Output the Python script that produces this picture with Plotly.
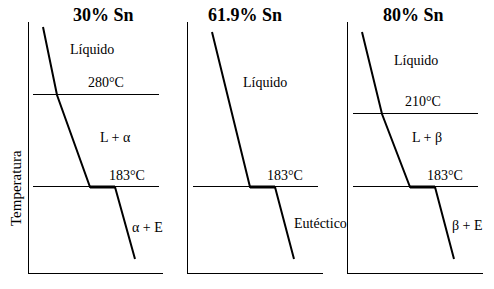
import plotly.graph_objects as go

W, H = 494, 289

# Schematic cooling curves (time vs temperature level, arbitrary units)
titles = ["30% Sn", "61.9% Sn", "80% Sn"]

time_30 = [14, 28, 61, 86, 106]
temp_30 = [246, 178, 86, 86, 14]
time_619 = [24, 62, 87, 106]
temp_619 = [241, 86, 86, 14]
time_80 = [14, 34, 62, 87, 106]
temp_80 = [241, 159, 86, 86, 14]

# isotherm levels and labels per panel
iso_30 = [178.5, 86.5]
iso_30_labels = ["280°C", "183°C"]
iso_619 = [86.5]
iso_619_labels = ["183°C"]
iso_80 = [159.5, 86.5]
iso_80_labels = ["210°C", "183°C"]

iso_x = [[4, 130], [5, 130], [5, 130]]

# phase region labels
regions_30 = ["Líquido", "L + α", "α + E"]
regions_619 = ["Líquido", "Eutéctico"]
regions_80 = ["Líquido", "L + β", "β + E"]

panels = [
    dict(t=time_30, T=temp_30, iso=iso_30, lab=iso_30_labels, xdom=(29, 163), xr=134),
    dict(t=time_619, T=temp_619, iso=iso_619, lab=iso_619_labels, xdom=(188, 323), xr=135),
    dict(t=time_80, T=temp_80, iso=iso_80, lab=iso_80_labels, xdom=(348, 483), xr=135),
]

fig = go.Figure()
ydom = ((H - 273) / H, (H - 22) / H)
serif = "Times New Roman, Liberation Serif, serif"

for i, p in enumerate(panels):
    n = "" if i == 0 else str(i + 1)
    xa, ya = "x" + n, "y" + n
    # isotherms
    for lev in p["iso"]:
        fig.add_trace(go.Scatter(x=iso_x[i], y=[lev, lev], mode="lines",
                                 line=dict(color="black", width=1),
                                 xaxis=xa, yaxis=ya, showlegend=False, hoverinfo="skip"))
    # cooling curve
    fig.add_trace(go.Scatter(x=p["t"], y=p["T"], mode="lines",
                             line=dict(color="black", width=2),
                             xaxis=xa, yaxis=ya, showlegend=False, hoverinfo="skip"))
    # plateau (thicker)
    k = len(p["t"]) - 3
    fig.add_trace(go.Scatter(x=p["t"][k:k + 2], y=p["T"][k:k + 2], mode="lines",
                             line=dict(color="black", width=3),
                             xaxis=xa, yaxis=ya, showlegend=False, hoverinfo="skip"))
    axis_common = dict(showline=True, linecolor="black", linewidth=1, showgrid=False,
                       zeroline=False, showticklabels=False, ticks="", mirror=False, fixedrange=True)
    fig.layout["xaxis" + n] = dict(domain=[p["xdom"][0] / W, p["xdom"][1] / W],
                                   range=[0, p["xr"]], anchor=ya, **axis_common)
    fig.layout["yaxis" + n] = dict(domain=list(ydom), range=[0, 251], anchor=xa, **axis_common)

def ann(text, x, y, xref, yref, size=14, bold=False, xanchor="center", **kw):
    fig.add_annotation(text=("<b>%s</b>" % text) if bold else text, x=x, y=y,
                       xref=xref, yref=yref, showarrow=False, xanchor=xanchor, yanchor="middle",
                       font=dict(family=serif, size=size, color="black"), **kw)

# titles (paper coordinates, above the panels)
ty = (H - 15) / H
ann(titles[0], 103 / W, ty, "paper", "paper", size=18, bold=True)
ann(titles[1], 245 / W, ty, "paper", "paper", size=18, bold=True)
ann(titles[2], 413 / W, ty, "paper", "paper", size=18, bold=True)

# panel 1
ann(regions_30[0], 63, 223, "x", "y")
ann(iso_30_labels[0], 77, 190, "x", "y")
ann(regions_30[1], 86, 136, "x", "y")
ann(iso_30_labels[1], 98, 98, "x", "y")
ann(regions_30[2], 118, 46, "x", "y")

# panel 2
ann(regions_619[0], 77, 190, "x2", "y2")
ann(iso_619_labels[0], 97, 98, "x2", "y2")
ann(regions_619[1], 104, 50, "x2", "y2", xanchor="left")

# panel 3
ann(regions_80[0], 68, 212, "x3", "y3")
ann(iso_80_labels[0], 75, 171, "x3", "y3")
ann(regions_80[1], 79, 136, "x3", "y3")
ann(iso_80_labels[1], 97, 98, "x3", "y3")
ann(regions_80[2], 119, 48, "x3", "y3")

# y-axis label
ann("Temperatura", 16 / W, (H - 188) / H, "paper", "paper", size=15, textangle=-90)

fig.update_layout(width=W, height=H, margin=dict(l=0, r=0, t=0, b=0),
                  paper_bgcolor="white", plot_bgcolor="white",
                  font=dict(family=serif))

fig.write_html("out.html", config={"displayModeBar": False})
